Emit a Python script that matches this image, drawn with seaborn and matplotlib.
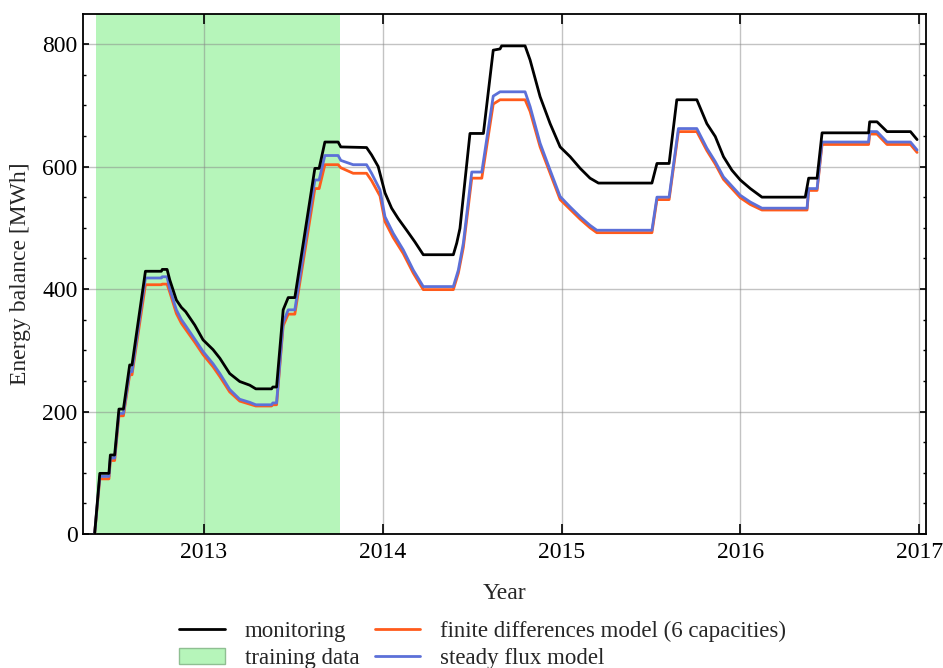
import numpy as np
import pandas as pd
import matplotlib
matplotlib.use("Agg")
import matplotlib.pyplot as plt
from matplotlib.lines import Line2D
from matplotlib.patches import Patch
from matplotlib.ticker import MultipleLocator, FixedLocator
import seaborn as sns

# Cumulative energy balance, measured (decimal year, MWh)
monitoring_years = [
    2012.390, 2012.419, 2012.470, 2012.478, 2012.502, 2012.526, 2012.551, 2012.586,
    2012.599, 2012.674, 2012.763, 2012.768, 2012.795, 2012.810, 2012.847, 2012.875,
    2012.899, 2012.950, 2012.996, 2013.052, 2013.090, 2013.145, 2013.201, 2013.257,
    2013.291, 2013.379, 2013.386, 2013.407, 2013.444, 2013.472, 2013.509, 2013.621,
    2013.645, 2013.677, 2013.751, 2013.766, 2013.910, 2013.938, 2013.975, 2014.013,
    2014.050, 2014.087, 2014.134, 2014.180, 2014.227, 2014.395, 2014.414, 2014.432,
    2014.488, 2014.563, 2014.618, 2014.656, 2014.665, 2014.796, 2014.824, 2014.880,
    2014.936, 2014.992, 2015.048, 2015.104, 2015.159, 2015.206, 2015.505, 2015.533,
    2015.601, 2015.644, 2015.756, 2015.812, 2015.859, 2015.905, 2015.952, 2015.999,
    2016.055, 2016.120, 2016.362, 2016.381, 2016.428, 2016.456, 2016.716, 2016.722,
    2016.763, 2016.819, 2016.950, 2016.987,
]
monitoring_mwh = [
    0, 99, 99, 129, 129, 204, 204, 276,
    276, 429, 429, 432, 432, 415, 382, 370,
    363, 341, 317, 301, 287, 262, 249, 243,
    237, 237, 240, 240, 366, 386, 386, 597,
    597, 640, 640, 632, 631, 619, 600, 557,
    532, 515, 496, 477, 456, 456, 475, 499,
    654, 654, 790, 792, 797, 797, 774, 714,
    670, 632, 616, 597, 581, 573, 573, 605,
    605, 709, 709, 670, 649, 616, 594, 578,
    564, 550, 550, 581, 581, 655, 655, 673,
    673, 657, 657, 644,
]

# Simulated energy balance of both models (decimal year, MWh)
model_years = [
    2012.390, 2012.419, 2012.470, 2012.478, 2012.502, 2012.526, 2012.551, 2012.586,
    2012.599, 2012.674, 2012.763, 2012.768, 2012.795, 2012.810, 2012.847, 2012.875,
    2012.899, 2012.950, 2012.996, 2013.052, 2013.090, 2013.145, 2013.201, 2013.257,
    2013.291, 2013.379, 2013.386, 2013.407, 2013.444, 2013.472, 2013.509, 2013.621,
    2013.645, 2013.677, 2013.751, 2013.766, 2013.835, 2013.910, 2013.938, 2013.985,
    2014.013, 2014.059, 2014.115, 2014.171, 2014.227, 2014.395, 2014.423, 2014.451,
    2014.498, 2014.554, 2014.618, 2014.656, 2014.796, 2014.824, 2014.880, 2014.936,
    2014.992, 2015.048, 2015.104, 2015.159, 2015.197, 2015.505, 2015.533, 2015.601,
    2015.653, 2015.756, 2015.812, 2015.859, 2015.905, 2015.952, 2015.999, 2016.055,
    2016.120, 2016.372, 2016.381, 2016.428, 2016.456, 2016.716, 2016.722, 2016.763,
    2016.819, 2016.950, 2016.987,
]
steady_flux_mwh = [
    0, 94, 94, 124, 124, 197, 197, 265,
    265, 418, 418, 420, 420, 400, 366, 350,
    340, 318, 298, 278, 262, 236, 220, 215,
    211, 211, 214, 214, 345, 366, 366, 578,
    578, 618, 618, 610, 603, 603, 589, 562,
    518, 491, 464, 431, 404, 404, 431, 475,
    591, 591, 715, 722, 722, 698, 638, 594,
    551, 534, 518, 504, 496, 496, 550, 550,
    662, 662, 630, 608, 583, 568, 553, 542,
    532, 532, 564, 564, 640, 640, 657, 657,
    640, 640, 627,
]
finite_diff_mwh = [
    0, 90, 90, 120, 120, 193, 193, 260,
    260, 407, 407, 408, 408, 395, 360, 344,
    334, 313, 293, 273, 257, 232, 217, 212,
    209, 209, 211, 211, 340, 359, 359, 564,
    564, 603, 603, 598, 589, 589, 577, 552,
    510, 484, 458, 426, 399, 399, 426, 468,
    581, 581, 702, 709, 709, 690, 632, 589,
    546, 530, 514, 500, 492, 492, 546, 546,
    657, 657, 626, 604, 579, 564, 549, 538,
    529, 529, 561, 561, 636, 636, 653, 653,
    636, 636, 623,
]

training_period = (2012.395, 2013.760)
year_ticks = [2013, 2014, 2015, 2016, 2017]

labels = {
    "monitoring": "monitoring",
    "training": "training data",
    "fd": "finite differences model (6 capacities)",
    "sf": "steady flux model",
}

sns.set_theme(style="ticks")
plt.rcParams["font.family"] = ["Liberation Serif", "DejaVu Serif"]

col_black = "#000000"
col_fd = "#ff5b1c"
col_sf = "#5c70d8"
col_train = "#b6f5ba"

fig = plt.figure(figsize=(9.43, 6.68), dpi=100)
ax = fig.add_axes([0.088, 0.2006, 0.894, 0.7784])

ax.axvspan(*training_period, facecolor=col_train, edgecolor="none", zorder=1)

mon = pd.DataFrame({"year": monitoring_years, "mwh": monitoring_mwh})
mod = pd.DataFrame({"year": model_years, "fd": finite_diff_mwh, "sf": steady_flux_mwh})

sns.lineplot(data=mod, x="year", y="fd", color=col_fd, lw=2.0, sort=False,
             estimator=None, ax=ax, zorder=3)
sns.lineplot(data=mod, x="year", y="sf", color=col_sf, lw=2.0, sort=False,
             estimator=None, ax=ax, zorder=4)
sns.lineplot(data=mon, x="year", y="mwh", color=col_black, lw=2.0, sort=False,
             estimator=None, ax=ax, zorder=5)

ax.set_xlim(2012.325, 2017.037)
ax.set_ylim(0, 849)
ax.xaxis.set_major_locator(FixedLocator(year_ticks))
ax.set_xticklabels([str(y) for y in year_ticks])
ax.yaxis.set_major_locator(MultipleLocator(200))
ax.yaxis.set_minor_locator(MultipleLocator(50))

ax.grid(True, which="major", color="#888888", alpha=0.5, lw=1.0)
ax.set_axisbelow("line")

ax.tick_params(axis="both", which="both", direction="in", top=True, right=True,
               colors="black", labelsize=17)
ax.tick_params(axis="x", which="major", length=7.5, width=1.2, pad=6)
ax.tick_params(axis="y", which="major", length=4.3, width=1.2, pad=4)
ax.tick_params(axis="y", which="minor", length=2.5, width=1.0)
for sp in ax.spines.values():
    sp.set_color("black")
    sp.set_linewidth(1.3)

ax.set_xlabel("Year", fontsize=17, labelpad=14.5)
ax.set_ylabel("Energy balance [MWh]", fontsize=17, labelpad=8)

handles = [
    Line2D([], [], color=col_black, lw=2.0),
    Patch(facecolor=col_train, edgecolor="#8fbf92", lw=1.0),
    Line2D([], [], color=col_fd, lw=2.0),
    Line2D([], [], color=col_sf, lw=2.0),
]
fig.legend(handles, [labels["monitoring"], labels["training"], labels["fd"], labels["sf"]],
           ncol=2, loc="lower center", bbox_to_anchor=(0.512, -0.033), frameon=False,
           fontsize=16.5, handlelength=2.0, handletextpad=0.87, columnspacing=0.65,
           labelspacing=0.27)

fig.savefig("out.png", dpi=100)
